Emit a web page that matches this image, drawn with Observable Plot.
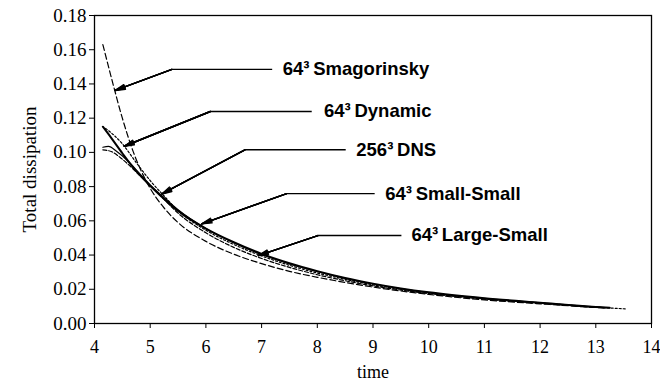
<!DOCTYPE html>
<html>
<head>
<meta charset="utf-8">
<script src="https://cdn.jsdelivr.net/npm/d3@7"></script>
<script src="https://cdn.jsdelivr.net/npm/@observablehq/plot@0.6"></script>
<style>
  body { margin: 0; background: #fff; }
  #chart svg { display: block; }
</style>
</head>
<body>
<div id="chart"></div>
<script>
// Total dissipation versus time for the DNS and four LES models.
const smagTime = [4.15, 4.3, 4.5, 4.7, 4.9, 5.0, 5.25, 5.5, 6.0, 6.5, 7.0, 7.5, 8.0, 8.5, 9.0, 10.0, 11.0, 12.0, 13.0, 13.2];
const smagValue = [0.163, 0.144, 0.120, 0.100, 0.085, 0.079, 0.0675, 0.059, 0.048, 0.0405, 0.035, 0.0305, 0.027, 0.024, 0.0213, 0.0170, 0.0138, 0.0115, 0.0094, 0.0091];

const dynTime = [4.2, 4.35, 4.5, 4.75, 5.0, 5.25, 5.5, 6.0, 6.5, 7.0, 7.5, 8.0, 8.5, 9.0, 10.0, 11.0, 12.0, 13.0, 13.55];
const dynValue = [0.114, 0.110, 0.105, 0.094, 0.0835, 0.0745, 0.066, 0.0545, 0.0462, 0.0395, 0.034, 0.0295, 0.0258, 0.0226, 0.0178, 0.0145, 0.0120, 0.0096, 0.0085];

const dnsTime = [4.15, 4.25, 4.4, 4.6, 4.8, 5.0, 5.25, 5.5, 6.0, 6.5, 7.0, 7.5, 8.0, 8.5, 9.0, 10.0, 11.0, 12.0, 13.0, 13.25];
const dnsValue = [0.1030, 0.1035, 0.1005, 0.0950, 0.0880, 0.0810, 0.0735, 0.0665, 0.0555, 0.0472, 0.0403, 0.0348, 0.0303, 0.0264, 0.0231, 0.0181, 0.0147, 0.0121, 0.0097, 0.0092];

const ssTime = [4.15, 4.3, 4.5, 4.75, 5.0, 5.25, 5.5, 6.0, 6.5, 7.0, 7.5, 8.0, 8.5, 9.0, 9.5, 10.0, 11.0, 12.0, 13.0, 13.25];
const ssValue = [0.115, 0.1085, 0.0995, 0.089, 0.0805, 0.0728, 0.0658, 0.0555, 0.0475, 0.0407, 0.0352, 0.0306, 0.0266, 0.0233, 0.0205, 0.0182, 0.0148, 0.0122, 0.0097, 0.0092];

const lsTime = [4.15, 4.3, 4.5, 4.75, 5.0, 5.25, 5.5, 6.0, 6.5, 7.0, 7.5, 8.0, 8.5, 9.0, 10.0, 11.0, 12.0, 13.0, 13.2];
const lsValue = [0.1015, 0.1005, 0.096, 0.0885, 0.0805, 0.0725, 0.0645, 0.053, 0.0445, 0.038, 0.0328, 0.0285, 0.025, 0.022, 0.0175, 0.0143, 0.0119, 0.0095, 0.0092];

// Callout labels: text start, elbow of the leader line, and arrow tip on the curve
const calloutText = ["64³\u2009Smagorinsky", "64³\u2009Dynamic", "256³\u2009DNS", "64³\u2009Small-Small", "64³\u2009Large-Small"];
const calloutTextTime = [7.38, 8.12, 8.70, 9.22, 9.69];
const calloutElbowTime = [5.39, 6.08, 6.70, 7.45, 8.01];
const calloutElbowValue = [0.1485, 0.1239, 0.1015, 0.0759, 0.0514];
const calloutEndTime = [7.19, 7.90, 8.51, 9.03, 9.51];
const calloutTipTime = [4.373, 4.534, 5.21, 5.927, 6.941];
const calloutTipValue = [0.1362, 0.1036, 0.0757, 0.0582, 0.0397];

const yTicks = [0, 0.02, 0.04, 0.06, 0.08, 0.10, 0.12, 0.14, 0.16, 0.18];
const xTicks = [4, 5, 6, 7, 8, 9, 10, 11, 12, 13, 14];

const toRows = (t, v) => t.map((x, i) => ({t: x, v: v[i]}));
const callouts = calloutText.map((label, i) => ({
  label,
  tx: calloutTextTime[i],
  ex: calloutElbowTime[i],
  ey: calloutElbowValue[i],
  endx: calloutEndTime[i],
  px: calloutTipTime[i],
  py: calloutTipValue[i]
}));

const lineOpts = {x: "t", y: "v", stroke: "#000", curve: "monotone-x"};

// Several arrow heads of narrowing angle stacked to give a solid head
const arrowHeads = [28, 18, 10, 4].map(a =>
  Plot.arrow(callouts, {
    x1: "ex", y1: "ey", x2: "px", y2: "py",
    stroke: "#000", strokeWidth: 1.4, headAngle: a, headLength: 11
  })
);

const chart = Plot.plot({
  width: 660,
  height: 381,
  marginLeft: 94,
  marginRight: 9,
  marginTop: 15,
  marginBottom: 58,
  style: {fontFamily: "'Liberation Serif', 'Times New Roman', serif", fontSize: "19px", color: "#000", background: "#fff"},
  x: {domain: [4, 14]},
  y: {domain: [0, 0.18]},
  marks: [
    Plot.frame({stroke: "#000", strokeWidth: 1.3}),
    Plot.axisY({ticks: yTicks, tickFormat: d3.format(".2f"), tickSize: 5, tickPadding: 3,
      label: "Total dissipation", labelAnchor: "center", labelArrow: "none", labelOffset: 72}),
    Plot.axisX({ticks: xTicks, tickFormat: d3.format("d"), tickSize: 5, tickPadding: 12, fontSize: 18,
      label: "time", labelAnchor: "center", labelArrow: "none", labelOffset: 54}),
    Plot.line(toRows(smagTime, smagValue), {...lineOpts, strokeWidth: 1.2, strokeDasharray: "6,3"}),
    Plot.line(toRows(dynTime, dynValue), {...lineOpts, strokeWidth: 1.2, strokeDasharray: "2,2"}),
    Plot.line(toRows(lsTime, lsValue), {...lineOpts, strokeWidth: 1.2, strokeDasharray: "4,2"}),
    Plot.line(toRows(dnsTime, dnsValue), {...lineOpts, strokeWidth: 1.2}),
    Plot.line(toRows(ssTime, ssValue), {...lineOpts, strokeWidth: 2}),
    Plot.link(callouts, {x1: "ex", y1: "ey", x2: "endx", y2: "ey", stroke: "#000", strokeWidth: 1.4}),
    ...arrowHeads,
    Plot.text(callouts, {
      x: "tx", y: "ey", text: "label", textAnchor: "start",
      fontFamily: "'Liberation Sans', Arial, sans-serif", fontWeight: "bold", fontSize: 18.5, fill: "#000"
    })
  ]
});

document.getElementById("chart").append(chart);
</script>
</body>
</html>
